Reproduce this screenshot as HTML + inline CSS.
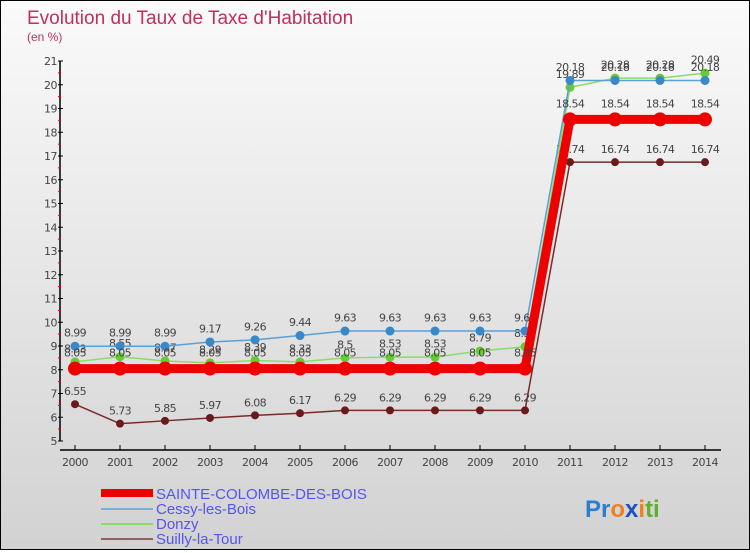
<!DOCTYPE html>
<html><head><meta charset="utf-8"><style>
html,body{margin:0;padding:0}
body{width:750px;height:550px;overflow:hidden;font-family:"DejaVu Sans","Liberation Sans",sans-serif}
#c{position:absolute;left:0;top:0;width:748px;height:548px;border:1px solid #000;background:linear-gradient(#fafafa,#d2d2d2)}
</style></head><body>
<div id="c">
<svg id="s" width="748" height="548" xmlns="http://www.w3.org/2000/svg">
<text x="26" y="23" font-size="19" fill="#c0305a" font-family="Liberation Sans, sans-serif">Evolution du Taux de Taxe d'Habitation</text>
<text x="26" y="40" font-size="12" fill="#c0305a" font-family="Liberation Sans, sans-serif">(en %)</text>
<g id="axes"></g><g id="series"></g>
<g font-family="Liberation Sans, sans-serif" font-size="15" fill="#5555ee">
<rect x="100" y="488" width="52" height="8" fill="#ee0000"/>
<text x="155" y="498">SAINTE-COLOMBE-DES-BOIS</text>
<rect x="100" y="507" width="52" height="2" fill="#7aaed6"/>
<text x="155" y="513">Cessy-les-Bois</text>
<rect x="100" y="522" width="52" height="2" fill="#88dd66"/>
<text x="155" y="528">Donzy</text>
<rect x="100" y="537" width="52" height="2" fill="#906060"/>
<text x="155" y="543">Suilly-la-Tour</text>
</g>
<text x="584" y="516" font-size="24" font-family="Liberation Sans, sans-serif" font-weight="bold"><tspan fill="#2a7fd0">Pr</tspan><tspan fill="#f08020">o</tspan><tspan fill="#2050c0">x</tspan><tspan fill="#f08020">i</tspan><tspan fill="#60b030">ti</tspan></text>
</svg></div>
<script>
const years=[2000,2001,2002,2003,2004,2005,2006,2007,2008,2009,2010,2011,2012,2013,2014];
const sainte=[8.05,8.05,8.05,8.05,8.05,8.05,8.05,8.05,8.05,8.05,8.05,18.54,18.54,18.54,18.54];
const cessy=[8.99,8.99,8.99,9.17,9.26,9.44,9.63,9.63,9.63,9.63,9.63,20.18,20.18,20.18,20.18];
const donzy=[8.33,8.55,8.37,8.29,8.39,8.33,8.5,8.53,8.53,8.79,8.97,19.89,20.28,20.28,20.49];
const suilly=[6.55,5.73,5.85,5.97,6.08,6.17,6.29,6.29,6.29,6.29,6.29,16.74,16.74,16.74,16.74];
const yTicks=[5,6,7,8,9,10,11,12,13,14,15,16,17,18,19,20,21];
const NS="http://www.w3.org/2000/svg";
const xs=i=>74+i*45, ys=v=>440-(v-5)*23.75;
function mk(t,a,p){const e=document.createElementNS(NS,t);for(const k in a)e.setAttribute(k,a[k]);p.appendChild(e);return e;}
const ax=document.getElementById('axes'),sg=document.getElementById('series');
let yl=mk('line',{x1:59,y1:ys(21),x2:59,y2:ys(5),stroke:'#000','stroke-width':1.5},ax);


let xl=mk('line',{x1:59,y1:449,x2:720,y2:449,stroke:'#000','stroke-width':1.5},ax);


yTicks.forEach(v=>{
 mk('line',{x1:57,y1:ys(v),x2:62,y2:ys(v),stroke:'#000'},ax);
 if(v<21)mk('line',{x1:57,y1:ys(v+0.5),x2:60,y2:ys(v+0.5),stroke:'#e00'},ax);
 const t=mk('text',{x:56,y:ys(v)+4,'font-size':11,'text-anchor':'end',fill:'#444','letter-spacing':'-0.5'},ax);
 t.textContent=v;
 
 
});
years.forEach((y,i)=>{
 mk('line',{x1:xs(i),y1:444,x2:xs(i),y2:449,stroke:'#000'},ax);
 const t=mk('text',{x:xs(i),y:465,'font-size':11,'text-anchor':'middle',fill:'#444','letter-spacing':'-0.5'},ax);
 t.textContent=y;
 
 
});
function series(vals,name,col,w,r,dot){
 const g=mk('g',{},sg);
 
 
 mk('polyline',{points:vals.map((v,i)=>xs(i)+','+ys(v)).join(' '),fill:'none',stroke:col,'stroke-width':w,'stroke-linejoin':'round'},g);
 vals.forEach((v,i)=>{
  const c=mk('circle',{cx:xs(i),cy:ys(v),r:r,fill:dot},g);
  
  
  const t=mk('text',{x:xs(i),y:ys(v)-(r+5),'font-size':11,'text-anchor':'middle',fill:'#444','letter-spacing':'-0.6'},g);
  t.textContent=v;
  
  
 });
}
series(suilly,'suilly','#7a2a2a',1.5,4,'#6a1a1a');
series(donzy,'donzy','#88dd66',1.5,4.5,'#66cc33');
series(cessy,'cessy','#5aa0d8',1.5,4.5,'#3a88c8');
series(sainte,'sainte','#ee0000',9,7,'#ee0000');
</script>
</body></html>
